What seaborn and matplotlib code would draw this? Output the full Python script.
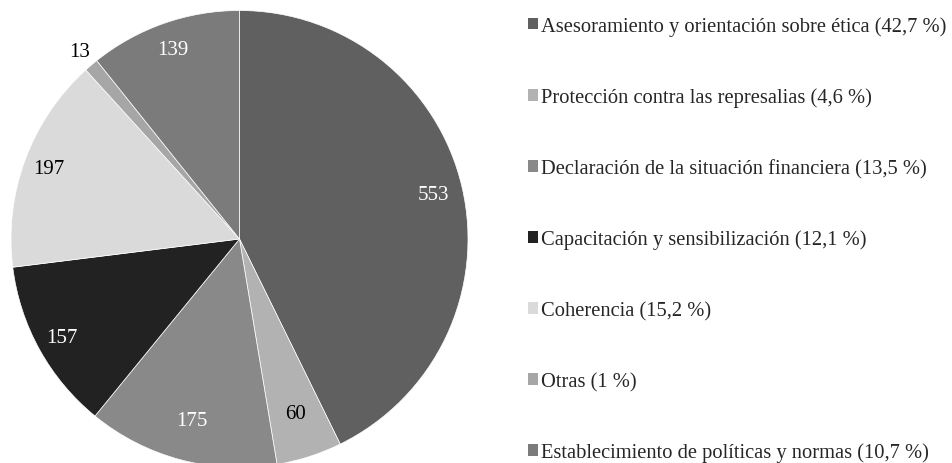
import matplotlib
matplotlib.use("Agg")
import matplotlib.pyplot as plt
import seaborn as sns
from matplotlib.patches import Patch
import numpy as np

categories = [
    "Asesoramiento y orientación sobre ética (42,7 %)",
    "Protección contra las represalias (4,6 %)",
    "Declaración de la situación financiera (13,5 %)",
    "Capacitación y sensibilización (12,1 %)",
    "Coherencia (15,2 %)",
    "Otras (1 %)",
    "Establecimiento de políticas y normas (10,7 %)",
]
values = [553, 60, 175, 157, 197, 13, 139]
colors = ["#606060", "#b2b2b2", "#898989", "#222222", "#dadada", "#a6a6a6", "#7b7b7b"]
label_colors = ["white", "black", "white", "white", "black", "black", "white"]
label_dist = [0.87, 0.80, 0.82, 0.89, 0.89, 1.08, 0.88]

sns.set_theme(style="white")
plt.rcParams["font.family"] = ["Liberation Serif", "DejaVu Serif"]

W, H = 953, 464
fig = plt.figure(figsize=(W / 100, H / 100), dpi=100)
cx, cy, r = 239.5, 240, 228.5
ax = fig.add_axes([(cx - r) / W, (H - cy - r) / H, 2 * r / W, 2 * r / H])
wedges, _ = ax.pie(values, colors=colors, startangle=90, counterclock=False,
                   radius=1, wedgeprops=dict(linewidth=0.5, edgecolor="white"))
ax.set_xlim(-1, 1)
ax.set_ylim(-1, 1)
ax.set_aspect("equal")
ax.axis("off")

for w, v, c, d in zip(wedges, values, label_colors, label_dist):
    ang = np.deg2rad((w.theta1 + w.theta2) / 2)
    ax.text(d * np.cos(ang), d * np.sin(ang), str(v), ha="center", va="center",
            color=c, fontsize=15, clip_on=False)

handles = [Patch(facecolor=c, edgecolor="none") for c in colors]
fig.legend(handles, categories, loc="upper left", bbox_to_anchor=(528 / W, 1 - 17 / H),
           frameon=False, fontsize=14.8, handlelength=0.5, handleheight=0.5,
           handletextpad=0.15, labelspacing=2.51, borderpad=0, borderaxespad=0)

fig.savefig("out.png", dpi=100)
